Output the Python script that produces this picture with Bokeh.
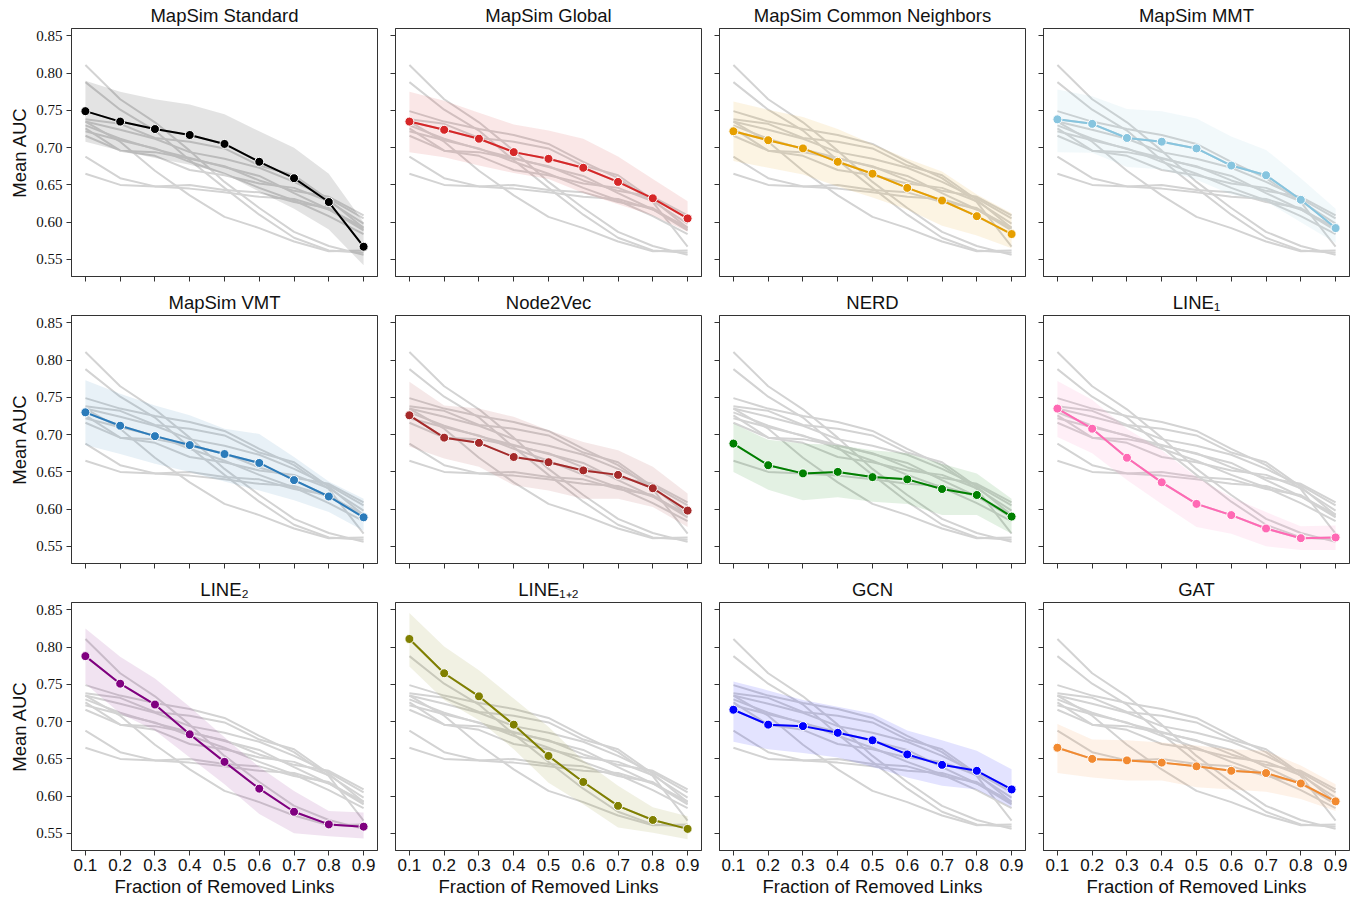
from bokeh.plotting import figure
from bokeh.layouts import column, row
from bokeh.models import FixedTicker, NumeralTickFormatter, Range1d
from bokeh.embed import file_html
from bokeh.resources import INLINE

# ---------------- data ----------------
fractions = [0.1, 0.2, 0.3, 0.4, 0.5, 0.6, 0.7, 0.8, 0.9]
y_ticks = [0.55, 0.60, 0.65, 0.70, 0.75, 0.80, 0.85]

methods = ["MapSim Standard", "MapSim Global", "MapSim Common Neighbors", "MapSim MMT",
           "MapSim VMT", "Node2Vec", "NERD", "LINE\u2081",
           "LINE\u2082", "LINE\u2081\u208A\u2082", "GCN", "GAT"]

colors = ["#000000", "#d62728", "#e69f00", "#87c5df",
          "#2b7bba", "#a52a2a", "#008000", "#ff69b4",
          "#800080", "#808000", "#0000ff", "#f28a30"]

std_mean = [0.749, 0.735, 0.725, 0.717, 0.705, 0.681, 0.659, 0.627, 0.567]
global_mean = [0.735, 0.724, 0.712, 0.694, 0.685, 0.673, 0.654, 0.632, 0.605]
cn_mean = [0.722, 0.710, 0.699, 0.681, 0.665, 0.646, 0.629, 0.608, 0.584]
mmt_mean = [0.738, 0.732, 0.713, 0.708, 0.699, 0.676, 0.663, 0.630, 0.592]
vmt_mean = [0.730, 0.712, 0.698, 0.686, 0.674, 0.662, 0.639, 0.617, 0.589]
n2v_mean = [0.726, 0.696, 0.689, 0.670, 0.663, 0.652, 0.646, 0.628, 0.598]
nerd_mean = [0.688, 0.659, 0.648, 0.650, 0.643, 0.640, 0.627, 0.619, 0.590]
line1_mean = [0.735, 0.708, 0.669, 0.636, 0.607, 0.592, 0.574, 0.561, 0.562]
line2_mean = [0.788, 0.751, 0.723, 0.683, 0.646, 0.610, 0.579, 0.562, 0.559]
line12_mean = [0.811, 0.765, 0.734, 0.696, 0.654, 0.619, 0.587, 0.568, 0.556]
gcn_mean = [0.716, 0.696, 0.694, 0.685, 0.675, 0.656, 0.642, 0.634, 0.609]
gat_mean = [0.665, 0.650, 0.648, 0.645, 0.640, 0.634, 0.631, 0.617, 0.593]

std_hi = [0.790, 0.775, 0.765, 0.758, 0.745, 0.722, 0.700, 0.665, 0.600]
std_lo = [0.708, 0.696, 0.686, 0.677, 0.665, 0.641, 0.618, 0.590, 0.542]
global_hi = [0.775, 0.763, 0.747, 0.731, 0.723, 0.712, 0.688, 0.658, 0.628]
global_lo = [0.694, 0.687, 0.676, 0.666, 0.658, 0.639, 0.624, 0.609, 0.587]
cn_hi = [0.762, 0.751, 0.741, 0.725, 0.705, 0.685, 0.668, 0.637, 0.612]
cn_lo = [0.682, 0.673, 0.664, 0.648, 0.633, 0.617, 0.595, 0.582, 0.565]
mmt_hi = [0.778, 0.769, 0.752, 0.749, 0.739, 0.715, 0.697, 0.659, 0.618]
mmt_lo = [0.694, 0.693, 0.674, 0.671, 0.657, 0.637, 0.628, 0.600, 0.572]
vmt_hi = [0.773, 0.755, 0.739, 0.726, 0.708, 0.701, 0.670, 0.637, 0.614]
vmt_lo = [0.686, 0.674, 0.661, 0.650, 0.637, 0.625, 0.612, 0.596, 0.571]
n2v_hi = [0.771, 0.739, 0.735, 0.724, 0.706, 0.690, 0.679, 0.657, 0.621]
n2v_lo = [0.684, 0.668, 0.657, 0.632, 0.625, 0.614, 0.614, 0.603, 0.576]
nerd_hi = [0.715, 0.693, 0.688, 0.686, 0.679, 0.675, 0.661, 0.648, 0.614]
nerd_lo = [0.650, 0.626, 0.612, 0.616, 0.610, 0.607, 0.592, 0.592, 0.567]
line1_hi = [0.772, 0.747, 0.708, 0.679, 0.643, 0.616, 0.596, 0.577, 0.578]
line1_lo = [0.697, 0.675, 0.639, 0.607, 0.576, 0.567, 0.550, 0.545, 0.545]
line2_hi = [0.825, 0.787, 0.758, 0.720, 0.679, 0.639, 0.607, 0.580, 0.578]
line2_lo = [0.751, 0.711, 0.688, 0.652, 0.616, 0.576, 0.550, 0.546, 0.543]
line12_hi = [0.846, 0.801, 0.769, 0.731, 0.693, 0.648, 0.614, 0.585, 0.573]
line12_lo = [0.774, 0.729, 0.702, 0.663, 0.618, 0.589, 0.558, 0.551, 0.542]
gcn_hi = [0.754, 0.742, 0.729, 0.720, 0.711, 0.688, 0.675, 0.661, 0.636]
gcn_lo = [0.673, 0.663, 0.658, 0.652, 0.639, 0.625, 0.614, 0.609, 0.585]
gat_hi = [0.697, 0.676, 0.675, 0.672, 0.668, 0.663, 0.661, 0.641, 0.616]
gat_lo = [0.631, 0.625, 0.621, 0.621, 0.612, 0.609, 0.606, 0.596, 0.580]

means = [std_mean, global_mean, cn_mean, mmt_mean, vmt_mean, n2v_mean,
         nerd_mean, line1_mean, line2_mean, line12_mean, gcn_mean, gat_mean]
his = [std_hi, global_hi, cn_hi, mmt_hi, vmt_hi, n2v_hi,
       nerd_hi, line1_hi, line2_hi, line12_hi, gcn_hi, gat_hi]
los = [std_lo, global_lo, cn_lo, mmt_lo, vmt_lo, n2v_lo,
       nerd_lo, line1_lo, line2_lo, line12_lo, gcn_lo, gat_lo]

# ---------------- layout ----------------
FW, FH = 306, 248
SANS = "Liberation Sans"
SERIF = "Liberation Serif"

rows = []
for r in range(3):
    figs = []
    for c in range(4):
        i = r * 4 + c
        p = figure(frame_width=FW, frame_height=FH, output_backend="svg",
                   toolbar_location=None,
                   x_range=Range1d(0.06, 0.94), y_range=Range1d(0.527, 0.860),
                   min_border_left=71 if c == 0 else 9,
                   min_border_right=9 if c < 3 else 4,
                   min_border_top=0,
                   min_border_bottom=11 if r < 2 else 0,
                   title=methods[i])
        p.title.align = "center"
        p.title.text_font = SANS
        p.title.text_font_size = "18.5px"
        p.title.text_font_style = "normal"
        p.title.text_color = "#111111"
        p.title.standoff = 5
        p.title.offset = 0
        p.background_fill_color = "white"
        p.border_fill_color = "white"
        p.outline_line_color = "#333333"
        p.outline_line_width = 1
        p.xgrid.grid_line_color = None
        p.ygrid.grid_line_color = None

        for ax in (p.xaxis[0], p.yaxis[0]):
            ax.axis_line_color = "#333333"
            ax.major_tick_line_color = "#333333"
            ax.major_tick_out = 5
            ax.major_tick_in = 0
            ax.minor_tick_line_color = None
            ax.major_label_text_line_height = 1.0
            ax.axis_label_text_line_height = 1.0

        p.xaxis.ticker = FixedTicker(ticks=fractions)
        p.yaxis.ticker = FixedTicker(ticks=y_ticks)
        p.xaxis.formatter = NumeralTickFormatter(format="0.0")
        p.yaxis.formatter = NumeralTickFormatter(format="0.00")

        if r == 2:
            p.xaxis.major_label_text_font = SANS
            p.xaxis.major_label_text_font_size = "17px"
            p.xaxis.major_label_text_color = "#111111"
            p.xaxis.major_label_standoff = 3
            p.xaxis.axis_label = "Fraction of Removed Links"
            p.xaxis.axis_label_text_font = SANS
            p.xaxis.axis_label_text_font_size = "18.5px"
            p.xaxis.axis_label_text_font_style = "normal"
            p.xaxis.axis_label_text_color = "#111111"
            p.xaxis.axis_label_standoff = 2
        else:
            p.xaxis.major_label_overrides = {t: "" for t in fractions}
            p.xaxis.major_label_standoff = 0

        if c == 0:
            p.yaxis.major_label_text_font = SERIF
            p.yaxis.major_label_text_font_size = "15px"
            p.yaxis.major_label_text_color = "#111111"
            p.yaxis.major_label_standoff = 4
            p.yaxis.axis_label = "Mean AUC"
            p.yaxis.axis_label_text_font = SANS
            p.yaxis.axis_label_text_font_size = "18.5px"
            p.yaxis.axis_label_text_font_style = "normal"
            p.yaxis.axis_label_text_color = "#111111"
            p.yaxis.axis_label_standoff = 3
        else:
            p.yaxis.major_label_overrides = {t: "" for t in y_ticks}
            p.yaxis.major_label_standoff = 0

        # all methods in light gray
        for m in means:
            p.line(fractions, m, line_color="#d3d3d3", line_width=2)

        col = colors[i]
        p.varea(x=fractions, y1=los[i], y2=his[i], fill_color=col, fill_alpha=0.11)
        p.line(fractions, means[i], line_color=col, line_width=2)
        p.scatter(fractions, means[i], size=9, fill_color=col, line_color="white",
                  line_width=1)
        figs.append(p)
    rows.append(row(*figs, spacing=0))

layout = column(*rows, spacing=0)

open("out.html", "w").write(file_html(layout, INLINE))
